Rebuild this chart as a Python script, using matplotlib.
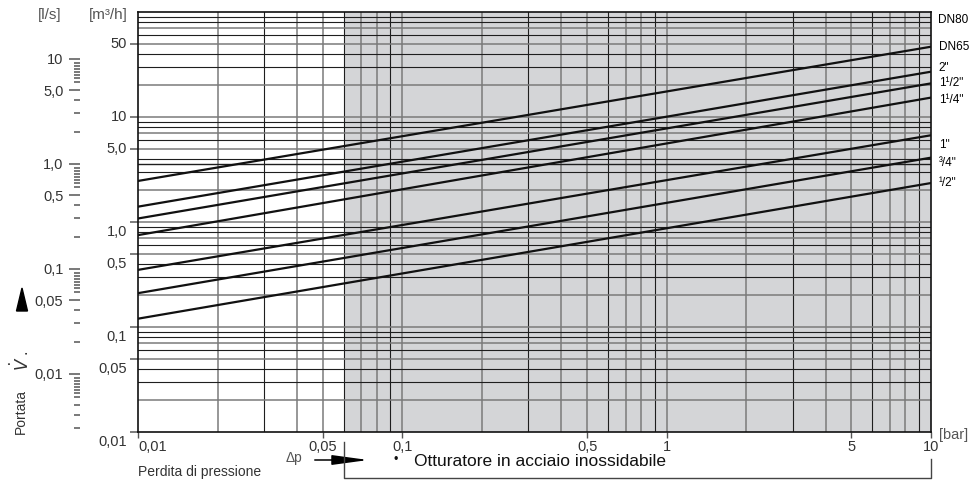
import numpy as np
import matplotlib
matplotlib.use("Agg")
import matplotlib.pyplot as plt
from matplotlib.lines import Line2D
from matplotlib.patches import Polygon
from matplotlib.ticker import NullLocator
import matplotlib.transforms as mtransforms

plt.rcParams['font.family'] = ['Liberation Sans', 'DejaVu Sans']

# --- data -------------------------------------------------------------
# flow (m3/h) read at dp = 0.01 bar and dp = 10 bar for each valve size
dp_ends = [0.01, 10]
sizes = ['DN65', '2"', '1¹/2"', '1¹/4"', '1"', '³/4"', '¹/2"']
q_start = [2.46, 1.40, 1.08, 0.75, 0.35, 0.21, 0.12]
q_end = [46.7, 27.0, 20.9, 15.3, 6.7, 4.1, 2.35]

x_ticks = [0.01, 0.05, 0.1, 0.5, 1, 5, 10]
x_labels = ['0,01', '0,05', '0,1', '0,5', '1', '5', '10']
y_ticks = [0.01, 0.05, 0.1, 0.5, 1, 5, 10, 50]
y_labels = ['0,01', '0,05', '0,1', '0,5', '1,0', '5,0', '10', '50']
ls_ticks = [0.01, 0.05, 0.1, 0.5, 1, 5, 10]
ls_labels = ['0,01', '0,05', '0,1', '0,5', '1,0', '5,0', '10']

M3H_PER_LS = 3.6
steel_from = 0.06  # start of the shaded range (bar)

# --- figure -----------------------------------------------------------
W, H = 975, 482
fig = plt.figure(figsize=(W / 100, H / 100), dpi=100)
ax = fig.add_axes([138 / W, 1 - 432 / H, (931 - 138) / W, 420 / H])
ax.set_xscale('log')
ax.set_yscale('log')
ax.set_xlim(0.01, 10)
ax.set_ylim(0.01, 100)

ax.axvspan(steel_from, 10, color='#d4d5d7', zorder=0, lw=0)

GRAY = '#7a7a7a'
DARK = '#1e1e1e'
mults = np.arange(1, 10)
for dec in [0.01, 0.1, 1]:
    for m in mults:
        v = dec * m
        if v <= 0.01 or v >= 10:
            continue
        gray = m in (1, 2, 4, 5, 7, 8)
        ax.axvline(v, color=GRAY if gray else DARK, lw=1.1 if gray else 0.8, zorder=1)
for dec in [0.01, 0.1, 1, 10]:
    for m in mults:
        v = dec * m
        if v <= 0.01 or v >= 100:
            continue
        gray = m in (1, 2, 5, 7)
        ax.axhline(v, color=GRAY if gray else DARK, lw=1.1 if gray else 0.8, zorder=1)
# 1 l/s reference line
ax.axhline(M3H_PER_LS, color=DARK, lw=1.0, zorder=1)

for q0, q1 in zip(q_start, q_end):
    ax.plot(dp_ends, [q0, q1], color='#111111', lw=1.6, zorder=3)

# curve labels at right end
label_dy = [0, 3.5, 0, -2.5, -10, -5, 0]
for name, q1, dy in zip(sizes, q_end, label_dy):
    ax.annotate(name, xy=(1, q1), xycoords=('axes fraction', 'data'),
                xytext=(5.5, dy * 0.72), textcoords='offset points',
                ha='left', va='center', fontsize=8.5)
ax.text(1 + 7 / 793, 0.981, 'DN80', transform=ax.transAxes, ha='left', va='center',
        fontsize=8.5)

for s in ax.spines.values():
    s.set_color('#111111')
    s.set_linewidth(1.2)
    s.set_zorder(4)

# x axis ticks
ax.set_xticks(x_ticks, x_labels)
ax.xaxis.set_minor_locator(NullLocator())
ax.tick_params(axis='x', length=4, width=1, color='#555555', labelsize=10.5,
               pad=2, labelcolor='#333333')
ax.get_xticklabels()[0].set_ha('left')

# m3/h axis ticks, labels placed by hand (lower ones sit below their tick)
ax.set_yticks(y_ticks, [''] * len(y_ticks))
ax.yaxis.set_minor_locator(NullLocator())
ax.tick_params(axis='y', length=6, width=1.2, color='#666666')
for v, lab in zip(y_ticks, y_labels):
    dy = -10 if v <= 1 else 0
    ax.annotate(lab, xy=(0, v), xycoords=('axes fraction', 'data'),
                xytext=(-8, dy * 0.72), textcoords='offset points',
                ha='right', va='center', fontsize=10.5, color='#333333')

# l/s axis as a free row of ticks further left
sec = ax.secondary_yaxis((80 - 138) / 793,
                         functions=(lambda q: q / M3H_PER_LS, lambda q: q * M3H_PER_LS))
for s in sec.spines.values():
    s.set_visible(False)
minor_mults = [2, 3, 4, 5, 6, 6.5, 7, 7.5, 8, 8.5, 9]
ls_minor = [d * m for d in [0.001, 0.01, 0.1, 1] for m in minor_mults]
ls_minor = [v for v in ls_minor if 0.0028 < v < 10 and v not in ls_ticks]
sec.set_yticks(ls_ticks, ls_labels)
sec.set_yticks(ls_minor, minor=True)
sec.tick_params(which='major', length=8, width=1.1, color='#555555',
                labelsize=10.5, pad=4, labelcolor='#333333')
sec.tick_params(which='minor', length=4.5, width=1.1, color='#555555')
sec.yaxis.set_minor_formatter(plt.NullFormatter())

# --- annotations around the plot -------------------------------------
def fx(x):
    return x / W

def fy(y):
    return 1 - y / H

fig.text(fx(50), fy(15), '[l/s]', ha='center', va='center', fontsize=11, color='#555555')
fig.text(fx(108), fy(15), '[m³/h]', ha='center', va='center', fontsize=11, color='#555555')
fig.text(fx(939), fy(435), '[bar]', ha='left', va='center', fontsize=10.5, color='#555555')

fig.text(fx(21), fy(411), 'Portata', rotation=90, ha='center', va='center',
         fontsize=10, color='#333333')
fig.text(fx(20), fy(360), r'$\dot{V}$ .', rotation=90, ha='center', va='center',
         fontsize=12, color='#333333')
fig.patches.append(Polygon([(fx(16.5), fy(311)), (fx(27.5), fy(311)), (fx(22), fy(288))],
                           closed=True, transform=fig.transFigure, color='black'))

fig.text(fx(200), fy(472), 'Perdita di pressione', ha='center', va='center',
         fontsize=10, color='#333333')
fig.text(fx(294), fy(458), 'Δp', ha='center', va='center', fontsize=10, color='#555555')
ax.annotate('', xy=(fx(371), fy(460)), xytext=(fx(312), fy(460)),
            xycoords='figure fraction', textcoords='figure fraction',
            arrowprops=dict(arrowstyle='-|>,head_length=2.2,head_width=0.3',
                            color='black', lw=1.1, mutation_scale=10))

fig.text(fx(396), fy(460), '•', ha='center', va='center', fontsize=9, color='#111111')
fig.text(fx(414), fy(462), 'Otturatore in acciaio inossidabile', ha='left', va='center',
         fontsize=12.5, color='#111111')

blend = mtransforms.blended_transform_factory(ax.transData, fig.transFigure)
fig.add_artist(Line2D([steel_from, steel_from, 10, 10], [fy(442), fy(478), fy(478), fy(459)],
                      transform=blend, color='#444444', lw=1.0, clip_on=False))

fig.savefig('out.png', dpi=100)
